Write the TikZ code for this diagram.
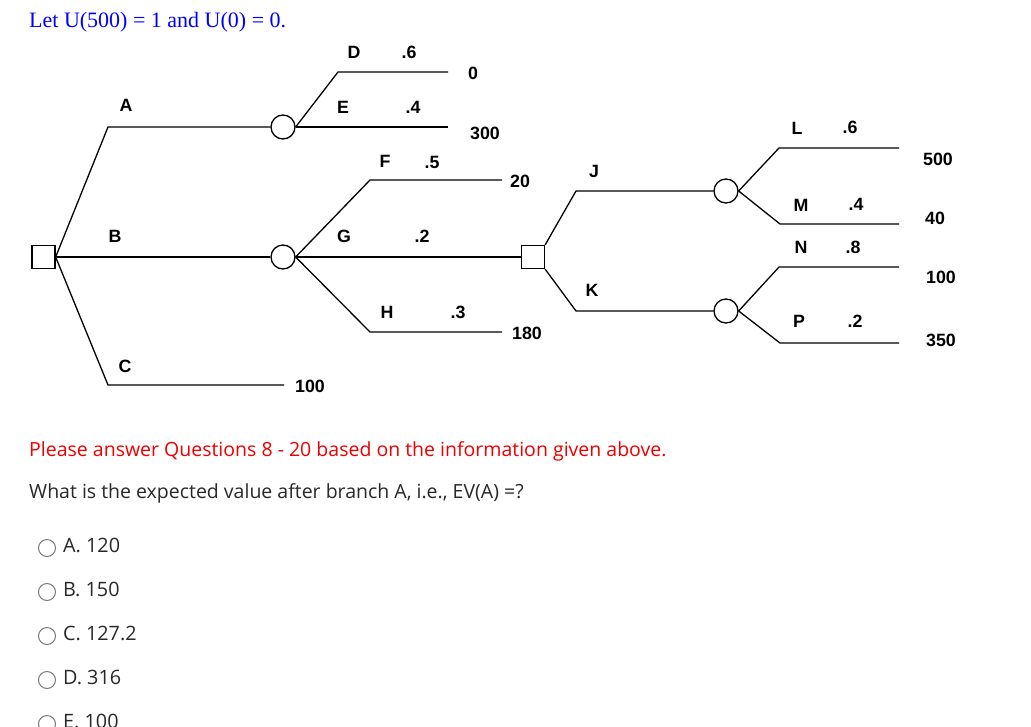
\documentclass[tikz,border=0pt]{standalone}
\usepackage{fontspec}
\setmainfont{Liberation Serif}
\newfontfamily\arialf{Liberation Sans}
\newfontfamily\opensf{Open Sans}
\definecolor{hdrblue}{RGB}{0,0,255}
\definecolor{qred}{RGB}{238,0,0}
\definecolor{qtext}{RGB}{40,40,40}
\definecolor{radiogray}{RGB}{120,120,120}
\begin{document}
\begin{tikzpicture}[x=1pt,y=-1pt,
  line/.style={line width=1.3pt, black},
  decbox/.style={draw, line width=1.3pt, rectangle, minimum size=23pt, inner sep=0pt},
  chance/.style={draw, line width=1.3pt, circle, minimum size=24pt, inner sep=0pt},
  lbl/.style={font=\arialf\bfseries\fontsize{17.8}{19}\selectfont, inner sep=0pt},
  hdr/.style={font=\fontsize{22}{24}\selectfont, text=hdrblue, inner sep=0pt, anchor=base west},
  qline/.style={font=\opensf\fontsize{19.5}{22}\selectfont, inner sep=0pt, anchor=base west},
  radio/.style={draw=radiogray, line width=1pt, circle, minimum size=17pt, inner sep=0pt},
  opt/.style={font=\opensf\fontsize{19.8}{22}\selectfont, text=qtext, inner sep=0pt, anchor=base west}]
\useasboundingbox (0,0) rectangle (1031,726);
\fill[white] (0,0) rectangle (1031,726);

\node[hdr] (hdr) at (29,27) {Let U(500) = 1 and U(0) = 0.};

% nodes
\node[decbox] (d1) at (43.5,257) {};
\node[chance] (c1) at (283,127) {};
\node[chance] (c2) at (283,257) {};
\node[decbox] (d2) at (533,257) {};
\node[chance] (c3) at (726,191) {};
\node[chance] (c4) at (726,311) {};

% coordinates
\coordinate (aK) at (108,127);
\coordinate (cK) at (108,385);
\coordinate (cE) at (284,385);
\coordinate (dK) at (338,72);
\coordinate (dE) at (448,72);
\coordinate (eE) at (448,127);
\coordinate (fK) at (370,180);
\coordinate (fE) at (502,180);
\coordinate (hK) at (370,332);
\coordinate (hE) at (502,332);
\coordinate (jK) at (576,191);
\coordinate (kK) at (576,311);
\coordinate (lK) at (779,148);
\coordinate (lE) at (899,148);
\coordinate (mK) at (780,224);
\coordinate (mE) at (899,224);
\coordinate (nK) at (779,267);
\coordinate (nE) at (899,267);
\coordinate (pK) at (780,343);
\coordinate (pE) at (899,343);

% connectors
\draw[line] (d1.east) -- (aK) -- (c1.west);
\draw[line] (d1.east) -- (c2.west);
\draw[line] (d1.east) -- (cK) -- (cE);
\draw[line] (c1.east) -- (dK) -- (dE);
\draw[line] (c1.east) -- (eE);
\draw[line] (c2.east) -- (fK) -- (fE);
\draw[line] (c2.east) -- (d2.west);
\draw[line] (c2.east) -- (hK) -- (hE);
\draw[line] (d2.north east) -- (jK) -- (c3.west);
\draw[line] (d2.south east) -- (kK) -- (c4.west);
\draw[line] (c3.east) -- (lK) -- (lE);
\draw[line] (c3.east) -- (mK) -- (mE);
\draw[line] (c4.east) -- (nK) -- (nE);
\draw[line] (c4.east) -- (pK) -- (pE);

% labels
\node[lbl] (tA) at (126,105) {A};
\node[lbl] (tB) at (115,236) {B};
\node[lbl] (tC) at (125,366) {C};
\node[lbl] (tD) at (354,52) {D};
\node[lbl] (pD) at (409,52) {.6};
\node[lbl] (vD) at (473,73) {0};
\node[lbl] (tE) at (343,107) {E};
\node[lbl] (pE) at (413,107) {.4};
\node[lbl] (vE) at (485,133) {300};
\node[lbl] (tF) at (385,161) {F};
\node[lbl] (pF) at (432,162) {.5};
\node[lbl] (vF) at (520,181) {20};
\node[lbl] (tG) at (344,236) {G};
\node[lbl] (pG) at (422,236) {.2};
\node[lbl] (tH) at (387,312) {H};
\node[lbl] (pH) at (458,312) {.3};
\node[lbl] (vH) at (527,333) {180};
\node[lbl] (vC) at (310,386) {100};
\node[lbl] (tJ) at (594,171) {J};
\node[lbl] (tK) at (592,290) {K};
\node[lbl] (tL) at (797,128) {L};
\node[lbl] (pL) at (850,127) {.6};
\node[lbl] (vL) at (938,159) {500};
\node[lbl] (tM) at (801,205) {M};
\node[lbl] (pM) at (856,204) {.4};
\node[lbl] (vM) at (935,218) {40};
\node[lbl] (tN) at (801,247) {N};
\node[lbl] (pN) at (853,247) {.8};
\node[lbl] (vN) at (941,277) {100};
\node[lbl] (tP) at (799,321) {P};
\node[lbl] (pP) at (855,321) {.2};
\node[lbl] (vP) at (941,340) {350};

% question
\node[qline, text=qred] (q1) at (29,456) {Please answer Questions 8 - 20 based on the information given above.};
\node[qline, text=qtext] (q2) at (29,498.5) {What is the expected value after branch A, i.e., EV(A) =?};

\node[radio] (rA) at (47,548) {};
\node[opt] (oA) at (63,552) {A. 120};
\node[radio] (rB) at (47,592) {};
\node[opt] (oB) at (63,596) {B. 150};
\node[radio] (rC) at (47,636) {};
\node[opt] (oC) at (63,640) {C. 127.2};
\node[radio] (rD) at (47,680) {};
\node[opt] (oD) at (63,684) {D. 316};
\node[radio] (rE) at (47,724) {};
\node[opt] (oE) at (63,728) {E. 100};
\end{tikzpicture}
\end{document}
